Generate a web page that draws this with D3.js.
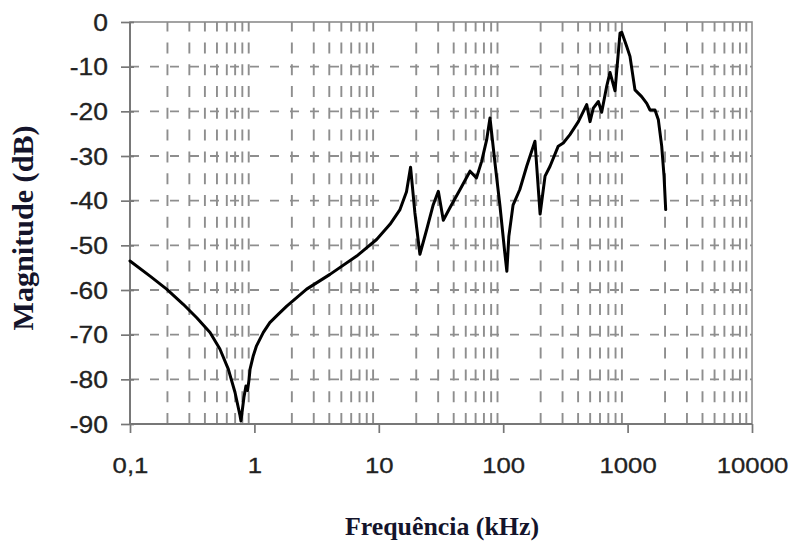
<!DOCTYPE html>
<html>
<head>
<meta charset="utf-8">
<script src="https://cdn.jsdelivr.net/npm/d3@7"></script>
<style>
html,body{margin:0;padding:0;background:#fff;}
svg{display:block;}
</style>
</head>
<body>
<svg id="chart" width="795" height="544"></svg>
<script>
// ---- data ----
const freqKHz = [0.1,0.145,0.197,0.268,0.344,0.44,0.528,0.617,0.698,0.766,0.78,0.824,0.855,0.881,0.906,0.923,0.98,1.04,1.18,1.33,1.56,1.82,2.63,4.05,6.64,9.6,12.3,14.8,16.7,18.0,19.5,21.4,24.3,27.4,30.1,33.0,37.3,45.0,54.1,61.0,67.1,73.6,78.3,85.9,94.2,103,107,111,120,136,154.5,180,198,217,238,277,304,344,402,469,499,530,582,619,679,722,792,869,897,984,1045,1146,1297,1425,1514,1660,1767,1880,1963,2024];
const magDB   = [-53.5,-56.9,-59.8,-63.2,-66.2,-69.5,-73.2,-77.7,-82.9,-88.1,-89.3,-84,-81.5,-82.5,-80,-77.7,-74.7,-72.5,-69.5,-67.3,-65.4,-63.6,-59.8,-56.5,-52.4,-48.7,-45.3,-42,-38,-32.5,-42.7,-52,-46.4,-40.9,-37.9,-44.4,-41.6,-37.5,-33.4,-34.9,-31.2,-26.4,-21.5,-31.6,-41.2,-51.7,-55.8,-48,-41,-37.5,-32.3,-26.7,-43,-34.5,-32.3,-27.8,-27.1,-25.2,-22.3,-18.5,-22.3,-19.3,-17.8,-20.2,-14.4,-11.3,-15.4,-2.5,-2.3,-5.5,-7.7,-15.2,-16.7,-18.2,-19.7,-19.7,-21.9,-27.8,-34.5,-42];
const xTickValues = [0.1,1,10,100,1000,10000];
const xTickLabels = ["0,1","1","10","100","1000","10000"];
const yTickValues = [0,-10,-20,-30,-40,-50,-60,-70,-80,-90];
const minorMultipliers = [2,3,4,5,6,7,8,9];
const xTitle = "Frequência (kHz)";
const yTitle = "Magnitude (dB)";

// ---- layout ----
const svg = d3.select("#chart");
const L = 130, R = 752, T = 22, B = 424;
const x = d3.scaleLog().domain([0.1,10000]).range([L,R]);
const y = d3.scaleLinear().domain([-90,0]).range([B,T]);
const gridColor = "#8e8e8e";

// vertical dashed grid (minor decades)
const decades = xTickValues.slice(0,-1);
const minorVals = [];
decades.forEach(d => minorMultipliers.forEach(m => minorVals.push(d*m)));
svg.append("g").selectAll("line").data(minorVals).join("line")
  .attr("x1", d => x(d)).attr("x2", d => x(d))
  .attr("y1", B).attr("y2", T)
  .attr("stroke", gridColor).attr("stroke-width", 1.9)
  .attr("stroke-dasharray", "11,10.8");

// horizontal dashed grid
svg.append("g").selectAll("line").data(yTickValues.filter(v => v < 0 && v > -90)).join("line")
  .attr("x1", L).attr("x2", R)
  .attr("y1", d => y(d)).attr("y2", d => y(d))
  .attr("stroke", gridColor).attr("stroke-width", 1.9)
  .attr("stroke-dasharray", "9,11");

// frame
svg.append("rect").attr("x", L).attr("y", T).attr("width", R-L).attr("height", B-T)
  .attr("fill", "none").attr("stroke", "#8c8c8c").attr("stroke-width", 1.6);
svg.append("line").attr("x1", L).attr("x2", L).attr("y1", T).attr("y2", B)
  .attr("stroke", "#777").attr("stroke-width", 1.9);
svg.append("line").attr("x1", L).attr("x2", R).attr("y1", B).attr("y2", B)
  .attr("stroke", "#777").attr("stroke-width", 1.9);

// y axis via d3 axis (ticks crossing the axis)
const yAxis = d3.axisLeft(y).tickValues(yTickValues).tickSize(0).tickFormat(d => d3.format("d")(d));
const gy = svg.append("g").attr("transform", `translate(${L},0)`).call(yAxis);
gy.select(".domain").remove();
gy.selectAll(".tick line").remove();
gy.selectAll(".tick").append("line")
  .attr("x1", -9).attr("x2", 4).attr("stroke", "#777").attr("stroke-width", 1.7);
gy.selectAll(".tick text").remove();
gy.selectAll(".tick").append("g").attr("transform", "translate(-22,0) scale(1.15,1)")
  .append("text").attr("text-anchor", "end").attr("dy", "0.36em")
  .attr("font-family", "Liberation Sans, Arial, sans-serif").attr("font-size", 23)
  .attr("fill", "#222").attr("stroke", "#222").attr("stroke-width", 0.3)
  .text(d => String(d).replace("−","-"));

// x axis
const xAxis = d3.axisBottom(x).tickValues(xTickValues).tickSize(0).tickFormat((d,i) => xTickLabels[i]);
const gx = svg.append("g").attr("transform", `translate(0,${B})`).call(xAxis);
gx.select(".domain").remove();
gx.selectAll(".tick line").remove();
gx.selectAll(".tick").append("line")
  .attr("y1", 0).attr("y2", 9).attr("stroke", "#777").attr("stroke-width", 1.7);
gx.selectAll(".tick text").remove();
gx.selectAll(".tick").append("g").attr("transform", "translate(0,49) scale(1.12,1)")
  .append("text").attr("text-anchor", "middle")
  .attr("font-family", "Liberation Sans, Arial, sans-serif").attr("font-size", 23)
  .attr("fill", "#222").attr("stroke", "#222").attr("stroke-width", 0.3)
  .text((d,i) => xTickLabels[i]);

// data line
const pts = freqKHz.map((f,i) => [f, magDB[i]]);
svg.append("path").datum(pts)
  .attr("fill", "none").attr("stroke", "#000").attr("stroke-width", 3)
  .attr("stroke-linejoin", "round").attr("stroke-linecap", "round")
  .attr("d", d3.line().x(d => x(d[0])).y(d => y(d[1])));

// titles
svg.append("text").attr("x", 442).attr("y", 535).attr("text-anchor", "middle")
  .attr("font-family", "Liberation Serif, Times New Roman, serif").attr("font-weight", "bold")
  .attr("font-size", 26).attr("fill", "#14142b")
  .attr("textLength", 194).attr("lengthAdjust", "spacingAndGlyphs")
  .text(xTitle);
svg.append("text").attr("transform", "translate(33,228) rotate(-90)").attr("text-anchor", "middle")
  .attr("font-family", "Liberation Serif, Times New Roman, serif").attr("font-weight", "bold")
  .attr("font-size", 29).attr("fill", "#14142b")
  .attr("textLength", 205).attr("lengthAdjust", "spacingAndGlyphs")
  .text(yTitle);
</script>
</body>
</html>
